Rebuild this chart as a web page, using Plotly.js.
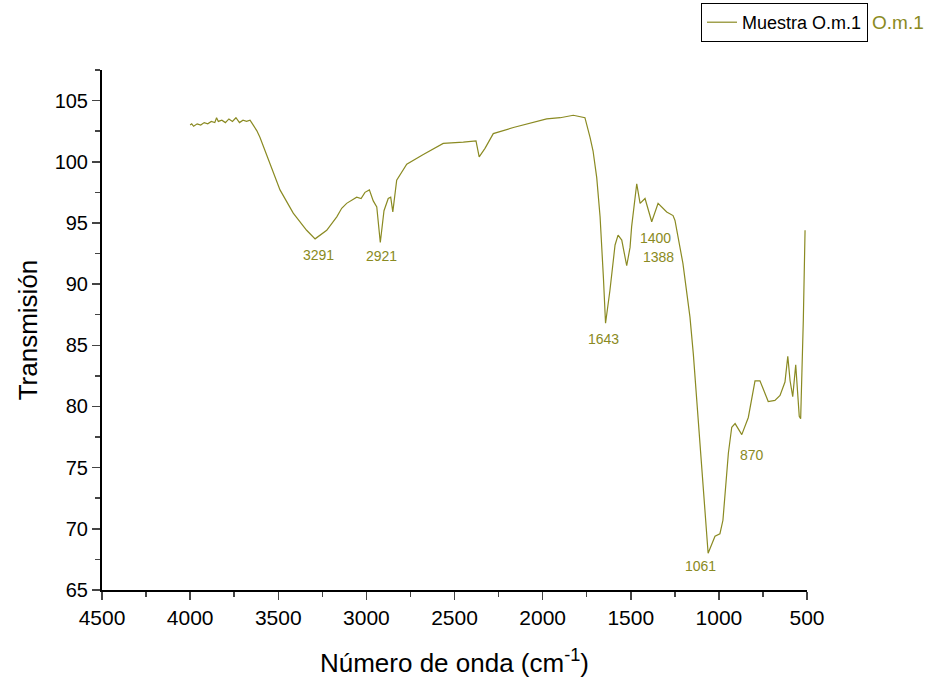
<!DOCTYPE html>
<html>
<head>
<meta charset="utf-8">
<script src="https://cdn.plot.ly/plotly-3.0.1.min.js"></script>
<style>body{margin:0;background:#fff}#chart{width:927px;height:684px}</style>
</head>
<body>
<div id="chart"></div>
<script>
const wavenumber = [4000,3991,3980,3960,3940,3920,3900,3880,3860,3850,3840,3820,3800,3780,3760,3740,3720,3700,3680,3660,3651,
  3622,3604,3547,3490,3415,3339,3291,3225,3168,3140,3112,3080,3055,3030,3008,2983,2961,2941,2921,2900,2876,2862,2850,2828,2771,2677,2564,2450,2378,2360,2327,2280,2166,1977,1900,1826,1790,1760,1731,
  1714,1693,1674,1655,1643,1618,1589,1572,1551,1523,1504,1495,1466,1447,1419,1381,1345,1296,1260,1249,1204,1164,1145,
  1061,1022,994,977,946,927,908,870,833,795,767,720,682,653,625,609,596,581,564,555,544,536,524,521,511];
const transmision = [103.0,103.1,102.9,103.1,103.0,103.2,103.1,103.3,103.2,103.6,103.3,103.4,103.2,103.5,103.3,103.6,103.2,103.4,103.3,103.4,103.2,
  102.55,102.0,99.9,97.7,95.8,94.4,93.7,94.4,95.5,96.2,96.6,96.9,97.1,97.0,97.5,97.7,96.8,96.3,93.4,96.0,97.0,97.1,95.9,98.5,99.8,100.6,101.5,101.6,101.7,100.4,101.1,102.3,102.8,103.5,103.6,103.8,103.7,103.6,102.0,
  100.9,98.7,95.5,90.5,86.8,89.5,93.2,94.0,93.6,91.5,93.0,94.7,98.2,96.6,97.0,95.1,96.6,95.9,95.6,95.2,91.7,87.3,84.3,
  68.0,69.4,69.6,70.7,76.2,78.3,78.6,77.7,79.1,82.1,82.1,80.4,80.5,80.9,82.0,84.1,82.1,80.8,83.4,81.1,79.2,79.0,84.3,87.0,94.4];
const peakLabels = ["3291","2921","1400","1388","1643","1061","870"];
const peakLabelX = [3274,2917,1362,1340,1652,1107,812];
const peakLabelY = [92.35,92.27,93.8,92.2,85.5,67.0,76.0];

const olive = '#8a8a22';
const annotations = peakLabels.map((t,i)=>({
  x: peakLabelX[i], y: peakLabelY[i], xref:'x', yref:'y', text:t, showarrow:false,
  font:{family:'Arial, Liberation Sans', size:14, color:olive}
}));
annotations.push({xref:'paper', yref:'paper', x:(870-102)/705, y:(590-22)/520, xanchor:'left', yanchor:'middle',
  text:'O.m.1', showarrow:false, font:{family:'Arial, Liberation Sans', size:19, color:olive}});

const trace = {x: wavenumber, y: transmision, type:'scatter', mode:'lines', name:'Muestra O.m.1',
  line:{color:olive, width:1.2}};

const layout = {
  width:927, height:684,
  margin:{l:102, r:120, t:70, b:94, autoexpand:false},
  paper_bgcolor:'#fff', plot_bgcolor:'#fff',
  font:{family:'Arial, Liberation Sans', color:'#000'},
  showlegend:true,
  legend:{x:(701-102)/705, y:(590-3)/520, xanchor:'left', yanchor:'top', bordercolor:'#000', borderwidth:1,
    font:{size:18, color:'#000'}, itemwidth:30, bgcolor:'#fff', tracegroupgap:0},
  xaxis:{range:[4500,500], dtick:500, tick0:500, ticks:'outside', ticklen:8, tickwidth:1.5, showline:true, linewidth:2, linecolor:'#000',
    showgrid:false, zeroline:false, tickfont:{size:21}, automargin:false,
    minor:{dtick:250, ticks:'outside', ticklen:5, tickwidth:1.5, showgrid:false},
    title:{text:'Número de onda (cm<sup>-1</sup>)', font:{size:26}, standoff:26}},
  yaxis:{range:[65,107.5], dtick:5, tick0:65, ticks:'outside', ticklen:8, tickwidth:1.5, showline:true, linewidth:2, linecolor:'#000',
    showgrid:false, zeroline:false, tickfont:{size:20}, automargin:false,
    minor:{dtick:2.5, ticks:'outside', ticklen:5, tickwidth:1.5, showgrid:false},
    title:{text:'Transmisión', font:{size:26}, standoff:10}},
  annotations: annotations
};
Plotly.newPlot('chart', [trace], layout, {displayModeBar:false, staticPlot:true});
</script>
</body>
</html>
